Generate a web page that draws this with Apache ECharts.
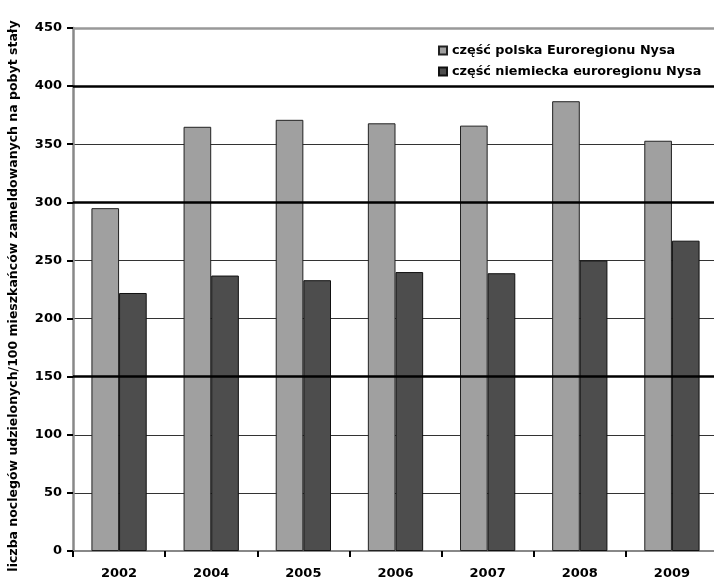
<!DOCTYPE html>
<html>
<head>
<meta charset="utf-8">
<script src="https://cdn.jsdelivr.net/npm/echarts@6/dist/echarts.min.js"></script>
<style>
html,body{margin:0;padding:0;background:#fff;}
#c{width:714px;height:580px;}
</style>
</head>
<body>
<div id="c"></div>
<script>
const categories = ['2002','2004','2005','2006','2007','2008','2009'];
const seriesNames = ['część polska Euroregionu Nysa','część niemiecka euroregionu Nysa'];
const polishPart = [295, 365, 371, 368, 366, 387, 353];
const germanPart = [222, 237, 233, 240, 239, 250, 267];
const strongGridValues = [400, 300, 150];
const yAxisTitle = 'liczba noclegów udzielonych/100 mieszkańców zameldowanych na pobyt stały';

const chart = echarts.init(document.getElementById('c'), null, {renderer:'canvas'});
const font = 'DejaVu Sans, Verdana, sans-serif';
chart.setOption({
  animation:false,
  backgroundColor:'#fff',
  grid:{left:73, top:28, bottom:29, width:645, containLabel:false, outerBoundsMode:'none'},
  legend:{
    data:seriesNames,
    orient:'vertical',
    left:433, top:39,
    itemWidth:8, itemHeight:8, itemGap:8,
    textStyle:{fontFamily:font, fontWeight:'bold', fontSize:12.8, color:'#000'},
    icon:'rect'
  },
  graphic:[{
    type:'text', x:14, y:296, rotation:Math.PI/2,
    style:{text:yAxisTitle, fontFamily:font, fontWeight:'bold', fontSize:12.5, fill:'#000',
      align:'center', verticalAlign:'middle'}
  }],
  xAxis:{
    type:'category', data:categories,
    axisLine:{lineStyle:{color:'#888', width:2}},
    axisTick:{show:true, length:6, lineStyle:{color:'#000', width:2}},
    axisLabel:{fontFamily:font, fontWeight:'bold', fontSize:13, color:'#000', margin:16},
    splitLine:{show:false}
  },
  yAxis:{
    type:'value', min:0, max:450, interval:50,
    axisLine:{show:true, lineStyle:{color:'#888', width:2.5}},
    axisTick:{show:true, length:6, lineStyle:{color:'#000', width:2}},
    axisLabel:{fontFamily:font, fontWeight:'bold', fontSize:13, color:'#000', margin:11},
    splitLine:{show:true, lineStyle:{color:['#333','#333','#333','#333','#333','#333','#333','#333','#333','#999'], width:1}}
  },
  series:[
    {
      name:'grid-strong', type:'line', data:[], z:1, silent:true,
      markLine:{
        silent:true, symbol:'none', label:{show:false},
        lineStyle:{color:'#000', width:2.5, type:'solid'},
        data:strongGridValues.map(v=>({yAxis:v})).concat([{yAxis:450, lineStyle:{color:'#999', width:2.5}}])
      }
    },
    {
      name:seriesNames[0], type:'bar', data:polishPart, z:3,
      barGap:'0%', barCategoryGap:'40%',
      itemStyle:{color:'#a0a0a0', borderColor:'#222', borderWidth:1}
    },
    {
      name:seriesNames[1], type:'bar', data:germanPart, z:3,
      itemStyle:{color:'#4d4d4d', borderColor:'#111', borderWidth:1}
    }
  ]
});
</script>
</body>
</html>
